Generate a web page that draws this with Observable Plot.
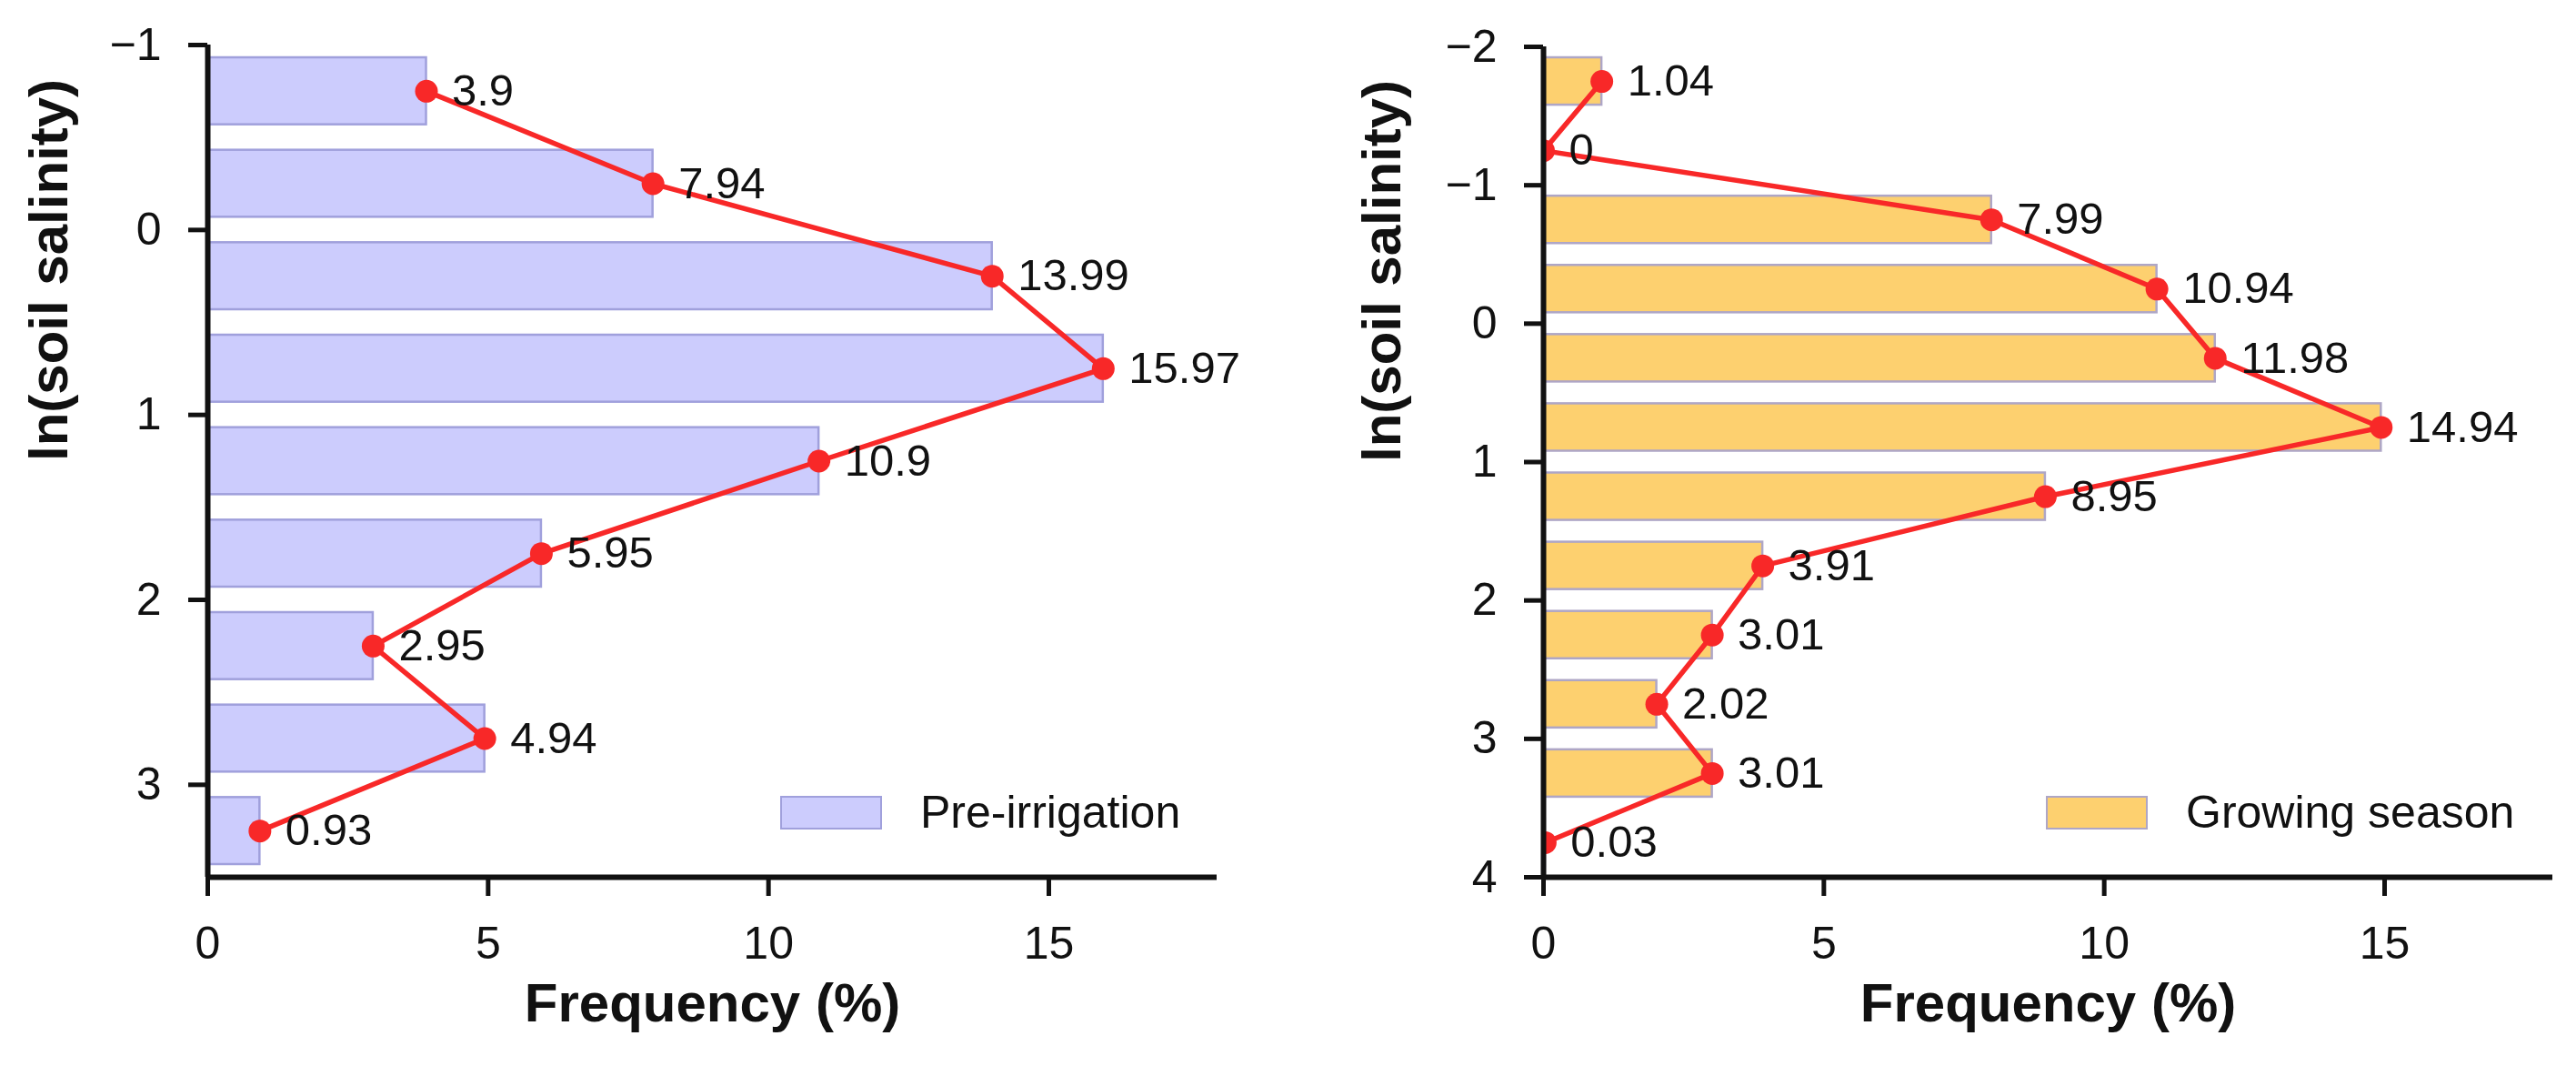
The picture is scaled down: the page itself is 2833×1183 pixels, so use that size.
<!DOCTYPE html>
<html>
<head>
<meta charset="utf-8">
<script src="https://cdn.jsdelivr.net/npm/d3@7"></script>
<script src="https://cdn.jsdelivr.net/npm/@observablehq/plot@0.6"></script>
<style>
  html, body { margin: 0; padding: 0; background: #fff; overflow: hidden; }
  #wrap { display: flex; width: 2833px; height: 1183px; }
  .panel { position: relative; }
  .legend { position: absolute; font-family: "Liberation Sans", Arial, sans-serif; font-size: 50px; color: #111; }
  .legend .sw { position: absolute; box-sizing: border-box; border: 2.5px solid; }
  .legend .lab { position: absolute; white-space: nowrap; line-height: 1; transform: translateY(-50%); }
</style>
</head>
<body>
<div id="wrap"></div>
<script>
// ---- data ----
const binWidth = 0.5;
const binStartPre = [-1, -0.5, 0, 0.5, 1, 1.5, 2, 2.5, 3];
const freqPre = [3.9, 7.94, 13.99, 15.97, 10.9, 5.95, 2.95, 4.94, 0.93];
const binStartGrow = [-2, -1.5, -1, -0.5, 0, 0.5, 1, 1.5, 2, 2.5, 3, 3.5];
const freqGrow = [1.04, 0, 7.99, 10.94, 11.98, 14.94, 8.95, 3.91, 3.01, 2.02, 3.01, 0.03];
const xTicks = [0, 5, 10, 15];
const yTicksPre = [-1, 0, 1, 2, 3];
const yTicksGrow = [-2, -1, 0, 1, 2, 3, 4];
const xDomain = [0, 18];
const yDomainPre = [-1, 3.5];
const yDomainGrow = [-2, 4];
const xTitle = "Frequency (%)";
const yTitle = "ln(soil salinity)";
const seriesNames = ["Pre-irrigation", "Growing season"];

const FONT = '"Liberation Sans", Arial, Helvetica, sans-serif';
const RED = "#f82828";
const intFmt = d3.format("d");

function rowsOf(starts, freqs) {
  return starts.map((s, i) => ({lo: s, hi: s + binWidth, mid: s + binWidth / 2, f: freqs[i]}));
}

function panel(cfg) {
  const rows = rowsOf(cfg.starts, cfg.freqs);
  const plot = Plot.plot({
    width: cfg.width,
    height: 1183,
    marginLeft: cfg.marginLeft,
    marginRight: cfg.marginRight,
    marginTop: cfg.marginTop,
    marginBottom: 219,
    style: {fontFamily: FONT, fontSize: "50px", color: "#111", background: "white", overflow: "visible"},
    x: {domain: xDomain},
    y: {domain: cfg.yDomain, reverse: true},
    marks: [
      Plot.rect(rows, {
        x1: 0, x2: "f", y1: "lo", y2: "hi",
        insetTop: cfg.inset, insetBottom: cfg.inset,
        fill: cfg.fill, stroke: cfg.stroke, strokeWidth: 2.5
      }),
      Plot.line(rows, {x: "f", y: "mid", stroke: RED, strokeWidth: 5.5, clip: true}),
      Plot.dot(rows, {x: "f", y: "mid", r: 12.5, fill: RED, stroke: null, clip: true}),
      Plot.ruleX([xDomain[0]], {stroke: "#111", strokeWidth: 6}),
      Plot.ruleY([cfg.yDomain[1]], {stroke: "#111", strokeWidth: 6}),
      Plot.axisX({ticks: xTicks, tickFormat: intFmt, tickSize: 21, tickPadding: 33, strokeWidth: 5, label: null, anchor: "bottom"}),
      Plot.axisY({ticks: cfg.yTicks, tickFormat: intFmt, tickSize: 21, tickPadding: 30, strokeWidth: 5, label: null, anchor: "left"}),
      Plot.text(rows, {x: "f", y: "mid", text: d => String(d.f), textAnchor: "start", dx: 28, fontSize: 49, fill: "#111"}),
      Plot.text([yTitle], {frameAnchor: "left", rotate: -90, dx: cfg.yTitleDx, fontSize: 60, fontWeight: "bold", fill: "#111"}),
      Plot.text([xTitle], {frameAnchor: "bottom", dy: 158, fontSize: 60, fontWeight: "bold", fill: "#111"})
    ]
  });
  const div = document.createElement("div");
  div.className = "panel";
  div.style.width = cfg.width + "px";
  div.style.height = "1183px";
  div.appendChild(plot);
  const lg = document.createElement("div");
  lg.className = "legend";
  lg.style.left = "0px"; lg.style.top = "0px";
  const sw = document.createElement("div");
  sw.className = "sw";
  sw.style.left = cfg.legendX + "px";
  sw.style.top = "875px";
  sw.style.width = "112px";
  sw.style.height = "37px";
  sw.style.background = cfg.fill;
  sw.style.borderColor = cfg.stroke;
  const lab = document.createElement("div");
  lab.className = "lab";
  lab.style.left = (cfg.legendX + 154) + "px";
  lab.style.top = "893px";
  lab.textContent = cfg.name;
  lg.appendChild(sw);
  lg.appendChild(lab);
  div.appendChild(lg);
  return div;
}

const wrap = document.getElementById("wrap");
wrap.appendChild(panel({
  width: 1416, marginLeft: 228, marginRight: 78, marginTop: 49,
  starts: binStartPre, freqs: freqPre, yDomain: yDomainPre, yTicks: yTicksPre,
  fill: "#ccccfd", stroke: "#a0a0dc", inset: 14, yTitleDx: -174,
  legendX: 858, name: seriesNames[0]
}));
wrap.appendChild(panel({
  width: 1417, marginLeft: 281, marginRight: 26, marginTop: 51,
  starts: binStartGrow, freqs: freqGrow, yDomain: yDomainGrow, yTicks: yTicksGrow,
  fill: "#fdd06f", stroke: "#aea6c6", inset: 12, yTitleDx: -177,
  legendX: 834, name: seriesNames[1]
}));
</script>
</body>
</html>
